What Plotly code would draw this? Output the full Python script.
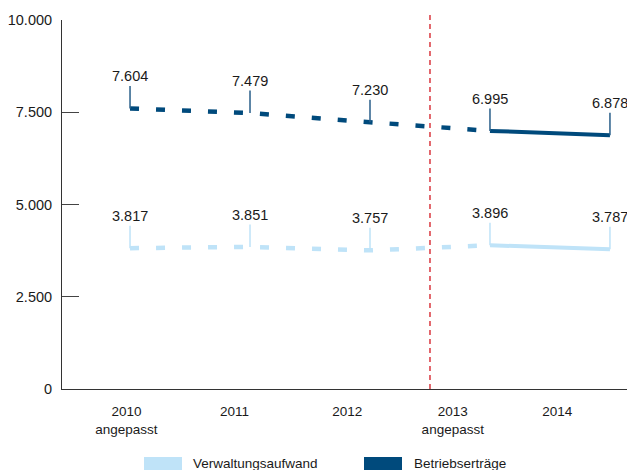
import plotly.graph_objects as go

# Categories and series values
years = ["2010<br>angepasst", "2011", "2012", "2013<br>angepasst", "2014"]
betriebsertraege = [7604, 7479, 7230, 6995, 6878]
verwaltungsaufwand = [3817, 3851, 3757, 3896, 3787]
y_ticks = [0, 2500, 5000, 7500, 10000]
y_tick_text = ["0", "2.500", "5.000", "7.500", "10.000"]

DARK = "#004a7c"
LIGHT = "#bfe3f8"
TEXT = "#1a1a1a"
FONT = "Liberation Sans, Arial, sans-serif"

xs = list(range(len(years)))
fmt = lambda v: f"{v:,}".replace(",", ".")

fig = go.Figure()

for vals, color in [(verwaltungsaufwand, LIGHT), (betriebsertraege, DARK)]:
    # dashed part up to 2013, solid from 2013 to 2014
    fig.add_trace(go.Scatter(
        x=xs[:4], y=vals[:4], mode="lines",
        line=dict(color=color, width=4.5, dash="9px,17px"),
        showlegend=False, hoverinfo="skip"))
    fig.add_trace(go.Scatter(
        x=xs[3:], y=vals[3:], mode="lines",
        line=dict(color=color, width=4),
        showlegend=False, hoverinfo="skip"))
    for x, v in zip(xs, vals):
        fig.add_annotation(
            x=x, y=v, text=fmt(v), showarrow=True, arrowhead=0,
            arrowwidth=1.5, arrowcolor=color if color == LIGHT else "#2a5f8a",
            ax=0, ay=-32, font=dict(family=FONT, size=14.5, color=TEXT))

# separator between 2012 and 2013
fig.add_shape(type="line", xref="x", yref="paper", x0=2.5, x1=2.5, y0=0, y1=1.015,
              line=dict(color="#d9363e", width=1.5, dash="5px,4px"))

# legend
legend_items = [("Verwaltungsaufwand", LIGHT, 144, 191), ("Betriebserträge", DARK, 364, 412)]
W, L, H, B = 565, 62, 369, 389
for name, color, sx, tx in legend_items:
    fig.add_shape(type="rect", xref="paper", yref="paper",
                  x0=(sx - L) / W, x1=(sx + 38 - L) / W,
                  y0=(B - 474) / H, y1=(B - 457) / H,
                  line=dict(width=0), fillcolor=color)
    fig.add_annotation(xref="paper", yref="paper", x=(tx - L) / W, y=(B - 463) / H,
                       text=name, showarrow=False, xanchor="left", yanchor="middle",
                       font=dict(family=FONT, size=13.5, color=TEXT))

fig.update_layout(
    width=627, height=470,
    margin=dict(l=62, r=0, t=20, b=81),
    paper_bgcolor="white", plot_bgcolor="white",
    showlegend=False,
    font=dict(family=FONT, color=TEXT),
)
fig.update_xaxes(
    range=[-0.567, 4.142], tickmode="array",
    tickvals=[-0.03, 0.87, 1.81, 2.69, 3.56], ticktext=years,
    showgrid=False, zeroline=False, showline=True, linecolor="#333", linewidth=1,
    ticks="", ticklabelstandoff=10, tickfont=dict(size=13.5, color=TEXT))
fig.update_yaxes(
    range=[0, 10000], tickmode="array", tickvals=y_ticks, ticktext=y_tick_text,
    showgrid=False, zeroline=False, showline=True, linecolor="#333", linewidth=1,
    ticks="inside", ticklen=17, tickcolor="#444", tickwidth=1,
    ticklabelstandoff=6, tickfont=dict(size=14.5, color=TEXT))

fig.write_html("out.html")
